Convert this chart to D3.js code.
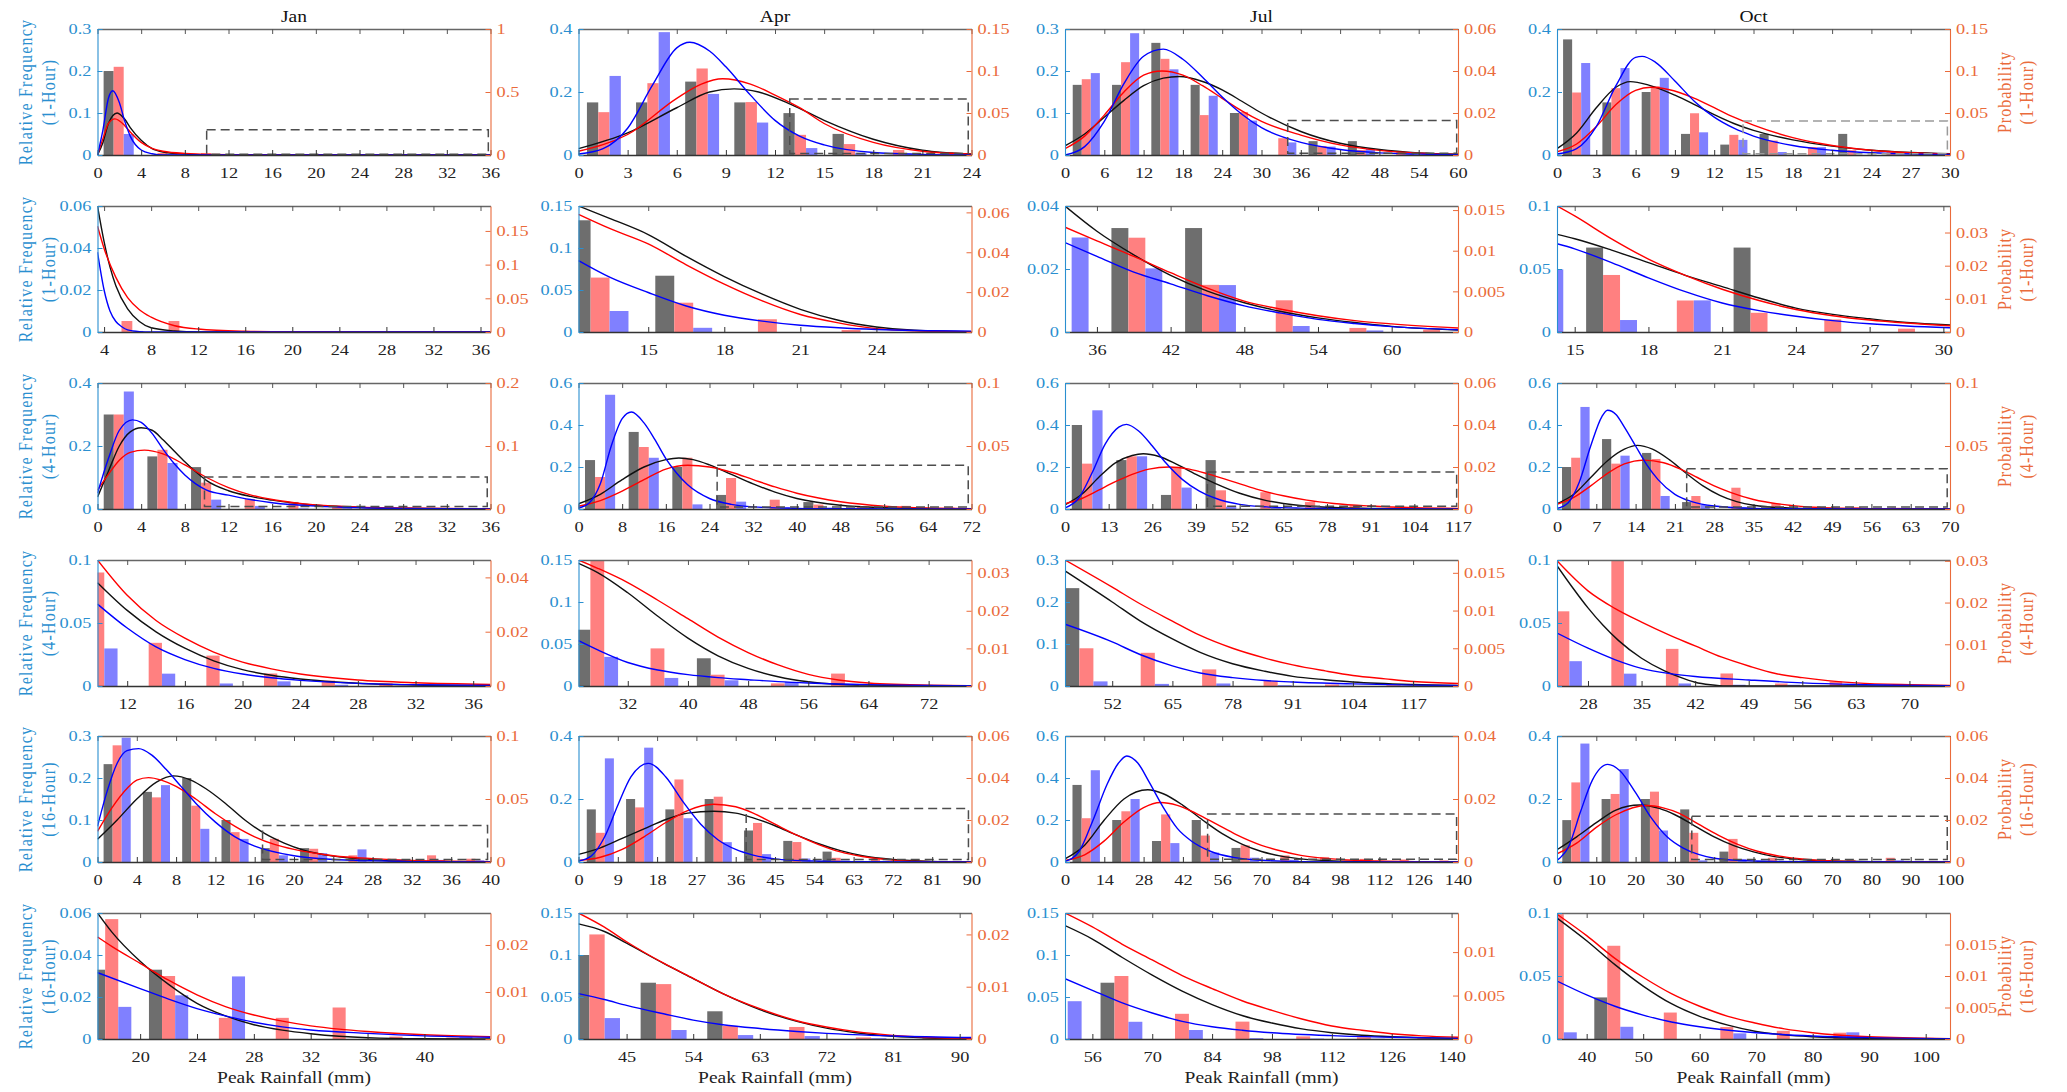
<!DOCTYPE html>
<html><head><meta charset="utf-8">
<script src="https://cdn.jsdelivr.net/npm/d3@7"></script>
<style>body{margin:0;background:#fff}svg{display:block}text{font-family:"Liberation Serif","Times New Roman",serif}</style>
</head><body><svg id="c" width="2067" height="1092"></svg>
<script>
const months = ["Jan","Apr","Jul","Oct"];
const durations = ["1-Hour","1-Hour","4-Hour","4-Hour","16-Hour","16-Hour"];
const xLabel = "Peak Rainfall (mm)";
const leftLabel = "Relative Frequency";
const rightLabel = "Probability";

// ---------- Row 1 : 1-Hour ----------
const xDomain_R1 = [[0,36],[0,24],[0,60],[0,30]];
const xTicks_R1 = [[0,4,8,12,16,20,24,28,32,36],[0,3,6,9,12,15,18,21,24],[0,6,12,18,24,30,36,42,48,54,60],[0,3,6,9,12,15,18,21,24,27,30]];
const leftMax_R1 = [0.3,0.4,0.3,0.4];
const leftTicks_R1 = [[0,0.1,0.2,0.3],[0,0.2,0.4],[0,0.1,0.2,0.3],[0,0.2,0.4]];
const rightMax_R1 = [1,0.15,0.06,0.15];
const rightTicks_R1 = [[0,0.5,1],[0,0.05,0.1,0.15],[0,0.02,0.04,0.06],[0,0.05,0.1,0.15]];
const binWidth_R1 = [4,3,6,3];
const bins_R1 = [[1.94,5.94,9.94,13.94],[1.55,4.55,7.55,10.55,13.55,16.55,19.55,22.55],[3.25,9.25,15.25,21.25,27.25,33.25,39.25,45.25,51.25,57.25],[1.5,4.5,7.5,10.5,13.5,16.5,19.5,22.5,25.5,28.5]];
const gray_R1 = [[0.2,0,0,0],[0.167,0.167,0.233,0.167,0.133,0.067,0,0],[0.167,0.167,0.267,0.167,0.1,0,0.033,0.033,0,0],[0.367,0.167,0.2,0.067,0.033,0.067,0,0.067,0,0]];
const red_R1 = [[0.7,0.016,0.016,0.002],[0.051,0.0855,0.103,0.063,0.024,0.013,0.006,0.003],[0.0361,0.0442,0.0458,0.019,0.0205,0.008,0.0043,0.0024,0.0016,0.0008],[0.0744,0.0796,0.082,0.0497,0.024,0.0172,0.0095,0.0058,0.0038,0.001]];
const blue_R1 = [[0.05,0.002,0,0],[0.251,0.39,0.194,0.103,0.022,0.007,0.005,0.003],[0.195,0.29,0.204,0.141,0.082,0.03,0.02,0.015,0.002,0.001],[0.292,0.276,0.245,0.072,0.048,0.0095,0.025,0,0,0]];
const cBlack_R1 = [
 [[0,0],[0.5,0.03],[1,0.075],[1.8,0.1],[2.5,0.085],[3,0.065],[4,0.035],[5,0.015],[6,0.007],[8,0.002],[12,0],[36,0]],
 [[0,0.02],[3,0.07],[6,0.15],[8,0.2],[9.5,0.21],[11,0.2],[13,0.16],[15,0.11],[18,0.05],[21,0.015],[24,0.003]],
 [[0,0.022],[3,0.05],[6,0.09],[9,0.13],[12,0.165],[15,0.183],[17.5,0.187],[21,0.175],[24,0.155],[27,0.128],[30,0.1],[36,0.056],[42,0.028],[48,0.013],[54,0.005],[60,0.002]],
 [[0,0.02],[1.5,0.07],[3,0.15],[4.5,0.215],[5.6,0.233],[7,0.222],[9,0.19],[10.5,0.16],[12,0.128],[13.5,0.1],[15,0.078],[18,0.048],[21,0.028],[24,0.015],[27,0.008],[30,0.004]]];
const cBlue_R1 = [
 [[0,0],[0.5,0.06],[1,0.135],[1.4,0.153],[2,0.125],[2.5,0.08],[3,0.045],[4,0.012],[5,0.003],[6,0],[36,0]],
 [[0,0.003],[1.5,0.02],[3,0.085],[4.5,0.22],[6,0.34],[6.8,0.358],[8,0.33],[9,0.28],[10.5,0.19],[12,0.11],[13.5,0.06],[15,0.032],[18,0.008],[21,0.002],[24,0]],
 [[0,0],[3,0.02],[6,0.08],[9,0.17],[12,0.235],[15,0.252],[18,0.228],[21,0.185],[24,0.138],[27,0.097],[30,0.065],[36,0.03],[42,0.013],[48,0.005],[54,0.002],[60,0.0005]],
 [[0,0.003],[1.5,0.02],[3,0.09],[4.5,0.22],[6,0.31],[6.5,0.313],[7.5,0.295],[9,0.235],[10.5,0.17],[12,0.12],[13.5,0.085],[15,0.06],[18,0.03],[21,0.015],[24,0.007],[27,0.003],[30,0.0015]]];
const cRed_R1 = [
 [[0,0],[0.5,0.13],[1,0.25],[1.6,0.287],[2.5,0.233],[3,0.183],[4,0.1],[5,0.053],[6,0.03],[8,0.013],[12,0.003],[36,0]],
 [[0,0.0045],[3,0.0244],[6,0.0675],[7.5,0.0844],[8.8,0.0908],[10.5,0.0844],[12,0.0713],[13.5,0.0563],[15,0.0375],[18,0.015],[21,0.0045],[24,0.0011]],
 [[0,0.003],[3,0.009],[6,0.019],[9,0.03],[12,0.038],[14.8,0.04],[18,0.038],[21,0.033],[24,0.027],[27,0.021],[30,0.016],[36,0.0095],[42,0.0048],[48,0.0022],[54,0.0009],[60,0.0003]],
 [[0,0.0038],[1.5,0.0131],[3,0.0338],[4.5,0.06],[6,0.0769],[7.2,0.0806],[8.5,0.078],[10.5,0.0675],[12,0.0563],[13.5,0.045],[15,0.0356],[18,0.0206],[21,0.0113],[24,0.0056],[27,0.0026],[30,0.0011]]];
const box_R1 = [[10,35.8,0.002,0.06],[12.9,23.8,0.005,0.178],[34,59.8,0.004,0.082],[14.2,29.8,0.004,0.108]];

// ---------- Row 2 : 1-Hour tail ----------
const xDomain_R2 = [[3.44,36.85],[12.25,27.75],[33.4,65.4],[14.28,30.27]];
const xTicks_R2 = [[4,8,12,16,20,24,28,32,36],[15,18,21,24],[36,42,48,54,60],[15,18,21,24,27,30]];
const leftMax_R2 = [0.06,0.15,0.04,0.1];
const leftTicks_R2 = [[0,0.02,0.04,0.06],[0,0.05,0.1,0.15],[0,0.02,0.04],[0,0.05,0.1]];
const rightMax_R2 = [0.187,0.0632,0.0155,0.038];
const rightTicks_R2 = [[0,0.05,0.1,0.15],[0,0.02,0.04,0.06],[0,0.005,0.01,0.015],[0,0.01,0.02,0.03]];
const binWidth_R2 = [4,3.25,6,3];
const bins_R2 = [[5.94,9.94,13.94,17.94],[13.1,16.4,19.7,23.0],[33.25,39.25,45.25,51.25,57.25,63.25],[13.5,16.5,19.5,22.5,25.5,28.5]];
const gray_R2 = [[0,0,0,0],[0.133,0.067,0,0],[0,0.033,0.033,0,0,0],[0,0.067,0,0.067,0,0]];
const red_R2 = [[0.0163,0.0163,0.001,0.0005],[0.0273,0.0147,0.0064,0.001],[0,0.0116,0.0058,0.0039,0.0005,0.0003],[0,0.0172,0.0095,0.0058,0.0038,0.001]];
const blue_R2 = [[0.0005,0,0,0],[0.025,0.005,0,0],[0.03,0.0202,0.0149,0.0019,0.0005,0],[0.0497,0.0095,0.0251,0,0,0]];
const cBlack_R2 = [
 [[3.44,0.06],[4,0.043],[4.5,0.031],[5,0.022],[6,0.011],[7,0.005],[8,0.002],[10,0.0005],[12,0],[36.85,0]],
 [[12.25,0.15],[13.5,0.135],[15,0.116],[16.5,0.09],[18,0.066],[19.5,0.045],[21,0.027],[22.5,0.014],[24,0.006],[25.5,0.002],[27.75,0.0003]],
 [[33.4,0.04],[36,0.032],[39,0.0245],[42,0.018],[45,0.013],[48,0.0093],[51,0.0065],[54,0.0045],[57,0.003],[60,0.0018],[65.4,0.0006]],
 [[14.28,0.0775],[15,0.074],[16.5,0.065],[18,0.055],[19.5,0.045],[21,0.036],[22.5,0.027],[24,0.019],[25.5,0.014],[27,0.0105],[28.5,0.0075],[30.27,0.0055]]];
const cBlue_R2 = [
 [[3.44,0.038],[4,0.02],[4.5,0.01],[5,0.005],[5.5,0.0025],[6,0.001],[7,0.0002],[8,0],[36.85,0]],
 [[12.25,0.085],[13.5,0.065],[15,0.047],[16.5,0.031],[18,0.02],[19.5,0.013],[21,0.008],[22.5,0.005],[24,0.003],[27.75,0.001]],
 [[33.4,0.0284],[36,0.024],[39,0.019],[42,0.0153],[45,0.0115],[48,0.0083],[51,0.006],[54,0.004],[57,0.0027],[60,0.0017],[65.4,0.0007]],
 [[14.28,0.07],[15,0.066],[16.5,0.055],[18,0.043],[19.5,0.032],[21,0.023],[22.5,0.017],[24,0.0125],[25.5,0.009],[27,0.0065],[28.5,0.0048],[30.27,0.0034]]];
const cRed_R2 = [
 [[3.44,0.157],[4,0.124],[5,0.081],[6,0.051],[7,0.033],[8,0.022],[10,0.0093],[12,0.0044],[16,0.0012],[20,0.0003],[36.85,0]],
 [[12.25,0.059],[13.5,0.0518],[15,0.0442],[16.5,0.0337],[18,0.024],[19.5,0.0156],[21,0.0088],[22.5,0.0046],[24,0.0017],[25.5,0.0006],[27.75,0.0001]],
 [[33.4,0.0129],[36,0.0112],[39,0.0093],[42,0.0073],[45,0.0054],[48,0.0038],[51,0.0028],[54,0.002],[57,0.0014],[60,0.001],[65.4,0.0005]],
 [[14.28,0.038],[15,0.035],[16.5,0.0281],[18,0.022],[19.5,0.0171],[21,0.0129],[22.5,0.0095],[24,0.0068],[25.5,0.0049],[27,0.0036],[28.5,0.0027],[30.27,0.0019]]];
const box_R2 = [null,null,null,null];

// ---------- Row 3 : 4-Hour ----------
const xDomain_R3 = [[0,36],[0,72],[0,117],[0,70]];
const xTicks_R3 = [[0,4,8,12,16,20,24,28,32,36],[0,8,16,24,32,40,48,56,64,72],[0,13,26,39,52,65,78,91,104,117],[0,7,14,21,28,35,42,49,56,63,70]];
const leftMax_R3 = [0.4,0.6,0.6,0.6];
const leftTicks_R3 = [[0,0.2,0.4],[0,0.2,0.4,0.6],[0,0.2,0.4,0.6],[0,0.2,0.4,0.6]];
const rightMax_R3 = [0.2,0.1,0.06,0.1];
const rightTicks_R3 = [[0,0.1,0.2],[0,0.05,0.1],[0,0.02,0.04,0.06],[0,0.05,0.1]];
const binWidth_R3 = [4,8,13.27,7.13];
const bins_R3 = [[1.95,5.95,9.95,13.95,17.95,21.95,25.95,29.95,33.95],[3.95,11.95,19.95,27.95,35.95,43.95,51.95,59.95,67.95],[6.6,19.87,33.14,46.41,59.68,72.95,86.22,99.49,112.76],[3.35,10.48,17.61,24.74,31.87,39.0,46.13,53.26,60.39,67.52]];
const gray_R3 = [[0.3,0.167,0.133,0,0,0,0,0,0],[0.233,0.367,0.2,0.067,0,0.033,0,0,0],[0.4,0.233,0.067,0.233,0,0,0,0,0],[0.2,0.333,0.267,0.033,0,0,0,0,0,0]];
const red_R3 = [[0.15,0.094,0.0418,0.0159,0.0112,0.0046,0.002,0.001,0.0005],[0.0254,0.0492,0.0407,0.0246,0.0074,0.0035,0.002,0.0025,0.0012],[0.0216,0.0251,0.02,0.0089,0.008,0.0033,0.0017,0.001,0.0005],[0.0407,0.036,0.0397,0.0103,0.0169,0.0045,0.002,0.0015,0.001,0.0005]];
const blue_R3 = [[0.373,0.146,0.0298,0.0098,0.002,0.0037,0.001,0,0],[0.544,0.244,0.022,0.035,0.0096,0.0068,0.005,0.001,0.001],[0.47,0.251,0.102,0.011,0.005,0.006,0.002,0.001,0],[0.486,0.254,0.062,0.0197,0.0098,0.002,0.001,0.001,0,0]];
const cBlack_R3 = [
 [[0,0.038],[1,0.12],[2,0.2],[3,0.245],[4,0.258],[5,0.25],[6,0.22],[7,0.185],[8,0.15],[9,0.118],[10,0.09],[12,0.058],[14,0.04],[16,0.028],[20,0.012],[24,0.005],[28,0.002],[36,0]],
 [[0,0.025],[4,0.07],[8,0.14],[12,0.2],[16,0.235],[18.4,0.243],[21,0.235],[24,0.21],[28,0.165],[32,0.12],[36,0.08],[40,0.05],[48,0.018],[56,0.006],[64,0.002],[72,0.0005]],
 [[0,0.02],[5,0.07],[10,0.15],[15,0.22],[20,0.255],[23.3,0.263],[28,0.25],[33,0.215],[39,0.165],[45,0.12],[52,0.075],[60,0.04],[70,0.017],[80,0.007],[91,0.003],[104,0.001],[117,0]],
 [[0,0.025],[3,0.07],[6,0.15],[9,0.23],[12,0.285],[14.3,0.303],[17,0.285],[20,0.235],[23,0.17],[26,0.11],[29,0.065],[32,0.035],[35,0.018],[42,0.004],[49,0.001],[70,0]]];
const cBlue_R3 = [
 [[0,0.05],[1,0.16],[2,0.25],[3.2,0.283],[4,0.275],[5,0.24],[6,0.19],[7,0.145],[8,0.108],[9,0.08],[10,0.06],[12,0.044],[14,0.03],[16,0.02],[20,0.009],[24,0.004],[28,0.002],[36,0]],
 [[0,0.005],[2,0.03],[4,0.12],[6,0.3],[8,0.43],[9.7,0.462],[12,0.41],[14,0.33],[16,0.24],[18,0.17],[20,0.115],[24,0.05],[28,0.022],[32,0.01],[40,0.003],[48,0.001],[72,0]],
 [[0,0.005],[4,0.05],[8,0.17],[12,0.31],[16,0.39],[18.3,0.403],[22,0.37],[26,0.3],[30,0.22],[35,0.14],[40,0.085],[45,0.05],[52,0.022],[60,0.01],[70,0.004],[80,0.002],[117,0]],
 [[0,0.003],[2,0.03],[4,0.13],[6,0.3],[8,0.44],[9,0.47],[10.5,0.45],[12,0.39],[14,0.3],[16,0.21],[18,0.14],[21,0.07],[24,0.035],[28,0.014],[35,0.003],[42,0.001],[70,0]]];
const cRed_R3 = [
 [[0,0.03],[1,0.055],[2,0.0775],[3,0.09],[4.3,0.0935],[6,0.0875],[8,0.07],[10,0.05],[12,0.034],[14,0.0225],[16,0.015],[18,0.01],[20,0.0065],[24,0.003],[28,0.0015],[32,0.00075],[36,0.0004]],
 [[0,0.0022],[4,0.0067],[8,0.0142],[12,0.0233],[16,0.0317],[20,0.0347],[24,0.0333],[28,0.0292],[32,0.0233],[36,0.0175],[40,0.0125],[44,0.0087],[48,0.0058],[56,0.0023],[64,0.0008],[72,0.0003]],
 [[0,0.0025],[5,0.005],[10,0.009],[15,0.013],[20,0.0165],[25,0.019],[31,0.02],[37,0.019],[43,0.0165],[50,0.013],[57,0.0095],[65,0.0063],[72,0.0042],[80,0.0026],[91,0.0014],[104,0.0006],[117,0.0003]],
 [[0,0.0037],[3,0.0092],[6,0.0183],[9,0.0283],[12,0.0358],[15.5,0.0388],[19,0.0367],[22,0.0317],[25,0.025],[28,0.0183],[31,0.013],[35,0.0075],[42,0.0027],[49,0.0008],[56,0.0003],[70,0.00005]]];
const box_R3 = [[9.8,35.7,0.008,0.1016],[25.4,71.4,0.0095,0.208],[42.4,116.6,0.013,0.176],[23.1,69.5,0.0095,0.192]];

// ---------- Row 4 : 4-Hour tail ----------
const xDomain_R4 = [[9.94,37.2],[25.45,77.7],[41.8,126.7],[23.95,75.3]];
const xTicks_R4 = [[12,16,20,24,28,32,36],[32,40,48,56,64,72],[52,65,78,91,104,117],[28,35,42,49,56,63,70]];
const leftMax_R4 = [0.1,0.15,0.3,0.1];
const leftTicks_R4 = [[0,0.05,0.1],[0,0.05,0.1,0.15],[0,0.1,0.2,0.3],[0,0.05,0.1]];
const rightMax_R4 = [0.0464,0.0335,0.0167,0.0302];
const rightTicks_R4 = [[0,0.02,0.04],[0,0.01,0.02,0.03],[0,0.005,0.01,0.015],[0,0.01,0.02,0.03]];
const binWidth_R4 = [4,8,13.27,7.13];
const bins_R4 = [[9.95,13.95,17.95,21.95,25.95,29.95,33.95],[27.95,35.95,43.95,51.95,59.95,67.95,75.95],[46.41,59.68,72.95,86.22,99.49,112.76,126.03],[24.74,31.87,39.0,46.13,53.26,60.39,67.52,74.65]];
const gray_R4 = [[0,0,0,0,0,0,0],[0.067,0,0.033,0,0,0,0],[0.233,0,0,0,0,0,0],[0.033,0,0,0,0,0,0,0]];
const red_R4 = [[0.0418,0.0159,0.0112,0.0046,0.002,0.001,0.0005],[0.034,0.01,0.003,0.0007,0.0033,0.0003,0],[0.005,0.0044,0.0022,0.0007,0.0002,0.0001,0],[0.0179,0.031,0.0089,0.003,0.0006,0.0011,0.0003,0]];
const blue_R4 = [[0.0298,0.0098,0.002,0.0037,0.001,0,0],[0.0347,0.0096,0.0068,0.005,0.001,0,0],[0.011,0.005,0.006,0.002,0.001,0.0005,0],[0.0197,0.0098,0.002,0.001,0.001,0.0005,0,0]];
const cBlack_R4 = [
 [[9.94,0.082],[12,0.06],[14,0.043],[16,0.03],[18,0.02],[20,0.013],[22,0.0085],[24,0.0055],[28,0.0022],[32,0.0008],[37.2,0.0002]],
 [[25.45,0.146],[28,0.135],[32,0.111],[36,0.083],[40,0.057],[44,0.036],[48,0.021],[52,0.011],[56,0.005],[60,0.002],[64,0.001],[77.7,0]],
 [[41.8,0.274],[52,0.2],[58,0.155],[65,0.112],[71,0.08],[78,0.053],[85,0.035],[91,0.023],[98,0.015],[104,0.0095],[117,0.0035],[126.7,0.0015]],
 [[23.95,0.0955],[26,0.078],[28,0.062],[30,0.048],[32,0.036],[35,0.022],[38,0.012],[40,0.007],[42,0.003],[44,0.001],[46,0],[75.3,0]]];
const cBlue_R4 = [
 [[9.94,0.065],[12,0.046],[14,0.031],[16,0.021],[18,0.014],[20,0.0095],[22,0.0065],[24,0.0045],[28,0.0021],[32,0.001],[37.2,0.0004]],
 [[25.45,0.054],[28,0.043],[32,0.028],[36,0.019],[40,0.0135],[44,0.01],[48,0.0075],[52,0.0052],[56,0.0036],[64,0.0016],[77.7,0.0004]],
 [[41.8,0.147],[52,0.105],[58,0.075],[65,0.048],[71,0.031],[78,0.02],[85,0.013],[91,0.0095],[104,0.005],[117,0.0022],[126.7,0.001]],
 [[23.95,0.042],[28,0.03],[31.5,0.021],[35,0.014],[38.5,0.01],[42,0.0075],[49,0.0048],[56,0.0025],[63,0.0012],[75.3,0.0003]]];
const cRed_R4 = [
 [[9.94,0.0464],[12,0.0334],[14,0.0241],[16,0.0176],[18,0.0125],[20,0.0088],[22,0.0063],[24,0.0044],[28,0.0022],[32,0.0012],[37.2,0.0006]],
 [[25.45,0.0335],[28,0.0313],[32,0.0275],[36,0.0228],[40,0.0179],[44,0.013],[48,0.0089],[52,0.0056],[56,0.0031],[60,0.0016],[64,0.0008],[72,0.0002],[77.7,0.0001]],
 [[41.8,0.0167],[52,0.0131],[58,0.0109],[65,0.0086],[71,0.0067],[78,0.005],[85,0.0037],[91,0.0028],[98,0.002],[104,0.0014],[111,0.00095],[117,0.0006],[126.7,0.00033]],
 [[23.95,0.03],[28,0.0228],[31.5,0.0186],[35,0.0153],[38.5,0.0123],[42,0.0096],[45.5,0.0069],[49,0.0048],[52.5,0.003],[56,0.002],[63,0.00075],[70,0.0003],[75.3,0.00015]]];
const box_R4 = [null,null,null,null];

// ---------- Row 5 : 16-Hour ----------
const xDomain_R5 = [[0,40],[0,90],[0,140],[0,100]];
const xTicks_R5 = [[0,4,8,12,16,20,24,28,32,36,40],[0,9,18,27,36,45,54,63,72,81,90],[0,14,28,42,56,70,84,98,112,126,140],[0,10,20,30,40,50,60,70,80,90,100]];
const leftMax_R5 = [0.3,0.4,0.6,0.4];
const leftTicks_R5 = [[0,0.1,0.2,0.3],[0,0.2,0.4],[0,0.2,0.4,0.6],[0,0.2,0.4]];
const rightMax_R5 = [0.1,0.06,0.04,0.06];
const rightTicks_R5 = [[0,0.05,0.1],[0,0.02,0.04,0.06],[0,0.02,0.04],[0,0.02,0.04,0.06]];
const binWidth_R5 = [4,9,14.16,10];
const bins_R5 = [[2,6,10,14,18,22,26,30,34,38],[5,14,23,32,41,50,59,68,77,86],[7.55,21.71,35.87,50.03,64.19,78.35,92.51,106.67,120.83,134.99],[4.8,14.8,24.8,34.8,44.8,54.8,64.8,74.8,84.8,94.8]];
const gray_R5 = [[0.233,0.167,0.2,0.1,0.033,0.033,0,0,0,0],[0.167,0.2,0.167,0.2,0.1,0.067,0.033,0,0,0],[0.367,0.2,0.1,0.2,0.067,0,0,0,0,0],[0.133,0.2,0.2,0.167,0.033,0,0,0,0,0]];
const red_R5 = [[0.0926,0.0513,0.0447,0.0237,0.0184,0.0105,0.0053,0.0026,0.0053,0.0026],[0.0139,0.026,0.0393,0.0311,0.0186,0.0095,0.002,0.0016,0.001,0.0005],[0.0139,0.0161,0.0151,0.0084,0.0053,0.0021,0.0016,0.001,0.0008,0.0005],[0.0379,0.0324,0.0335,0.0139,0.011,0.002,0.001,0.001,0.002,0.0005]];
const blue_R5 = [[0.296,0.183,0.079,0.055,0.016,0.021,0.03,0.006,0.005,0.004],[0.329,0.363,0.139,0.063,0.025,0.011,0.0047,0.0035,0.001,0.0005],[0.437,0.3,0.09,0.045,0.0205,0.0107,0.003,0.002,0.001,0.0005],[0.376,0.295,0.1,0.0053,0.0097,0,0.0045,0,0.0053,0]];
const cBlack_R5 = [
 [[0,0.054],[2,0.1],[4,0.15],[6,0.19],[7.7,0.205],[9.5,0.195],[11,0.175],[13,0.14],[15,0.1],[17,0.068],[19,0.045],[21,0.028],[24,0.014],[28,0.005],[32,0.002],[40,0]],
 [[0,0.024],[5,0.045],[10,0.075],[15,0.105],[20,0.135],[25,0.155],[31,0.161],[36,0.155],[40,0.14],[45,0.115],[50,0.085],[55,0.058],[60,0.036],[65,0.02],[72,0.008],[81,0.002],[90,0.0005]],
 [[0,0.015],[7,0.08],[14,0.2],[21,0.3],[29.5,0.344],[35,0.325],[42,0.27],[49,0.2],[56,0.135],[63,0.085],[70,0.05],[77,0.028],[84,0.015],[98,0.004],[112,0.001],[140,0]],
 [[0,0.039],[5,0.08],[10,0.125],[15,0.165],[21,0.181],[26,0.17],[30,0.15],[35,0.115],[40,0.08],[45,0.052],[50,0.032],[55,0.018],[60,0.01],[70,0.003],[80,0.001],[100,0]]];
const cBlue_R5 = [
 [[0,0.085],[1,0.17],[2,0.235],[3,0.265],[4.2,0.27],[5.5,0.255],[7,0.22],[8.5,0.18],[10,0.14],[12,0.095],[14,0.06],[16,0.038],[20,0.015],[24,0.006],[28,0.003],[32,0.001],[40,0]],
 [[0,0.003],[3,0.02],[6,0.08],[9,0.18],[12,0.27],[16,0.313],[20,0.27],[24,0.19],[28,0.12],[32,0.07],[36,0.04],[40,0.022],[45,0.01],[54,0.003],[63,0.001],[90,0]],
 [[0,0.003],[5,0.05],[10,0.2],[15,0.37],[19,0.47],[22,0.505],[26,0.47],[30,0.38],[35,0.26],[40,0.16],[45,0.1],[52,0.05],[60,0.022],[70,0.008],[84,0.002],[98,0.0005],[140,0]],
 [[0,0.005],[3,0.05],[6,0.16],[9,0.26],[12.9,0.31],[16,0.29],[20,0.22],[24,0.14],[28,0.08],[32,0.045],[36,0.024],[40,0.012],[50,0.003],[60,0.001],[100,0]]];
const cRed_R5 = [
 [[0,0.0243],[1.5,0.0433],[3,0.0583],[4,0.065],[5.2,0.067],[6.5,0.065],[8,0.06],[10,0.05],[12,0.0383],[14,0.0283],[16,0.02],[18,0.014],[20,0.01],[24,0.005],[28,0.0027],[32,0.0013],[36,0.0007],[40,0.0003]],
 [[0,0.00075],[5,0.00225],[10,0.006],[15,0.012],[20,0.0188],[25,0.0245],[31,0.0275],[36,0.0263],[40,0.0233],[45,0.018],[50,0.0128],[55,0.0083],[60,0.0048],[65,0.0026],[72,0.0009],[81,0.0002],[90,0.00005]],
 [[0,0.0005],[7,0.0023],[14,0.0067],[21,0.0127],[28,0.0173],[34,0.0189],[40,0.018],[47,0.0153],[54,0.012],[61,0.0087],[70,0.0053],[77,0.0035],[84,0.0021],[98,0.0008],[112,0.0003],[126,0.0001],[140,0.00003]],
 [[0,0.0039],[5,0.009],[10,0.0165],[15,0.0225],[22.9,0.0269],[27,0.0258],[31,0.0233],[36,0.018],[41,0.0128],[46,0.0084],[51,0.0051],[56,0.003],[61,0.0017],[70,0.0005],[80,0.00015],[100,0.00002]]];
const box_R5 = [[16.8,39.7,0.006,0.0868],[38.4,89.3,0.008,0.17],[50.8,139.5,0.0126,0.229],[34.3,99.3,0.008,0.145]];

// ---------- Row 6 : 16-Hour tail ----------
const xDomain_R6 = [[17.0,44.65],[38.5,91.6],[49.6,141.5],[34.75,104.3]];
const xTicks_R6 = [[20,24,28,32,36,40],[45,54,63,72,81,90],[56,70,84,98,112,126,140],[40,50,60,70,80,90,100]];
const leftMax_R6 = [0.06,0.15,0.15,0.1];
const leftTicks_R6 = [[0,0.02,0.04,0.06],[0,0.05,0.1,0.15],[0,0.05,0.1,0.15],[0,0.05,0.1]];
const rightMax_R6 = [0.0268,0.0241,0.0145,0.02];
const rightTicks_R6 = [[0,0.01,0.02],[0,0.01,0.02],[0,0.005,0.01],[0,0.005,0.01,0.015]];
const binWidth_R6 = [4,9,14.16,10];
const bins_R6 = [[18,22,26,30,34,38,42],[41,50,59,68,77,86],[48.6,62.8,76.95,91.1,105.3,119.5,133.6],[34.8,44.8,54.8,64.8,74.8,84.8,94.8]];
const gray_R6 = [[0.033,0.033,0,0,0,0,0],[0.1,0.067,0.033,0,0,0],[0,0.067,0,0,0,0,0],[0,0.033,0,0,0,0,0]];
const red_R6 = [[0.0255,0.0134,0.0045,0.0045,0.0067,0.0005,0.0003],[0.02,0.0105,0.0025,0.0023,0.0003,0.0002],[0,0.00725,0.0029,0.002,0.0003,0.0002,0.0001],[0.0198,0.0148,0.0042,0.0019,0.0013,0.001,0.0002]];
const blue_R6 = [[0.0153,0.0208,0.0298,0,0,0,0.001],[0.0249,0.0107,0.0047,0.0035,0.001,0.0005],[0.045,0.0205,0.0107,0.001,0.0005,0.0003,0],[0.0053,0.0097,0,0.0045,0,0.0053,0]];
const cBlack_R6 = [
 [[17,0.06],[18,0.051],[20,0.037],[22,0.026],[24,0.017],[26,0.011],[28,0.0068],[30,0.0042],[32,0.0025],[34,0.0013],[36,0.0006],[40,0.0001],[44.65,0]],
 [[38.5,0.137],[42,0.128],[45,0.114],[50,0.09],[54,0.072],[58,0.054],[63,0.035],[68,0.021],[72,0.013],[76,0.0075],[81,0.0032],[86,0.0012],[91.6,0.0003]],
 [[49.6,0.135],[56,0.119],[63,0.097],[70,0.076],[77,0.057],[84,0.041],[91,0.028],[98,0.019],[105,0.012],[112,0.0075],[119,0.0045],[126,0.0027],[133,0.0015],[141.5,0.0007]],
 [[34.75,0.096],[40,0.078],[45,0.059],[50,0.042],[55,0.028],[60,0.018],[65,0.011],[70,0.006],[75,0.0033],[80,0.0018],[90,0.0005],[104.3,0]]];
const cBlue_R6 = [
 [[17,0.0316],[20,0.024],[22,0.019],[24,0.0145],[26,0.011],[28,0.008],[30,0.0058],[32,0.0043],[36,0.0027],[40,0.0015],[44.65,0.0008]],
 [[38.5,0.054],[42,0.047],[45,0.04],[50,0.03],[54,0.0225],[58,0.017],[63,0.0125],[68,0.009],[72,0.0067],[81,0.0036],[91.6,0.0017]],
 [[49.6,0.0718],[56,0.058],[63,0.043],[70,0.031],[77,0.021],[84,0.0146],[91,0.0105],[98,0.0075],[112,0.004],[126,0.002],[141.5,0.0008]],
 [[34.75,0.046],[40,0.035],[45,0.026],[50,0.019],[55,0.0135],[60,0.0097],[70,0.005],[80,0.0024],[90,0.0011],[104.3,0.0003]]];
const cRed_R6 = [
 [[17,0.0217],[18,0.0197],[20,0.0161],[22,0.0125],[24,0.0094],[26,0.0069],[28,0.0051],[30,0.0038],[32,0.0028],[34,0.0021],[36,0.0016],[40,0.0009],[44.65,0.0005]],
 [[38.5,0.0241],[42,0.0214],[45,0.0186],[50,0.0145],[54,0.0116],[58,0.0087],[63,0.0058],[68,0.0035],[72,0.0023],[76,0.0014],[81,0.0007],[86,0.0003],[91.6,0.0001]],
 [[49.6,0.0145],[56,0.0129],[63,0.0109],[70,0.0091],[77,0.0073],[84,0.0058],[91,0.0044],[98,0.0033],[105,0.0023],[112,0.0015],[119,0.001],[126,0.0006],[133,0.00036],[141.5,0.0002]],
 [[34.75,0.0198],[40,0.0164],[45,0.0128],[50,0.0098],[55,0.0072],[60,0.0052],[65,0.0036],[70,0.0025],[75,0.0016],[80,0.001],[90,0.00036],[104.3,0.00006]]];
const box_R6 = [null,null,null,null];

// ---------- assemble ----------
const rows = [
 {xDomain:xDomain_R1,xTicks:xTicks_R1,leftMax:leftMax_R1,leftTicks:leftTicks_R1,rightMax:rightMax_R1,rightTicks:rightTicks_R1,binWidth:binWidth_R1,bins:bins_R1,gray:gray_R1,red:red_R1,blue:blue_R1,cBlack:cBlack_R1,cBlue:cBlue_R1,cRed:cRed_R1,box:box_R1},
 {xDomain:xDomain_R2,xTicks:xTicks_R2,leftMax:leftMax_R2,leftTicks:leftTicks_R2,rightMax:rightMax_R2,rightTicks:rightTicks_R2,binWidth:binWidth_R2,bins:bins_R2,gray:gray_R2,red:red_R2,blue:blue_R2,cBlack:cBlack_R2,cBlue:cBlue_R2,cRed:cRed_R2,box:box_R2},
 {xDomain:xDomain_R3,xTicks:xTicks_R3,leftMax:leftMax_R3,leftTicks:leftTicks_R3,rightMax:rightMax_R3,rightTicks:rightTicks_R3,binWidth:binWidth_R3,bins:bins_R3,gray:gray_R3,red:red_R3,blue:blue_R3,cBlack:cBlack_R3,cBlue:cBlue_R3,cRed:cRed_R3,box:box_R3},
 {xDomain:xDomain_R4,xTicks:xTicks_R4,leftMax:leftMax_R4,leftTicks:leftTicks_R4,rightMax:rightMax_R4,rightTicks:rightTicks_R4,binWidth:binWidth_R4,bins:bins_R4,gray:gray_R4,red:red_R4,blue:blue_R4,cBlack:cBlack_R4,cBlue:cBlue_R4,cRed:cRed_R4,box:box_R4},
 {xDomain:xDomain_R5,xTicks:xTicks_R5,leftMax:leftMax_R5,leftTicks:leftTicks_R5,rightMax:rightMax_R5,rightTicks:rightTicks_R5,binWidth:binWidth_R5,bins:bins_R5,gray:gray_R5,red:red_R5,blue:blue_R5,cBlack:cBlack_R5,cBlue:cBlue_R5,cRed:cRed_R5,box:box_R5},
 {xDomain:xDomain_R6,xTicks:xTicks_R6,leftMax:leftMax_R6,leftTicks:leftTicks_R6,rightMax:rightMax_R6,rightTicks:rightTicks_R6,binWidth:binWidth_R6,bins:bins_R6,gray:gray_R6,red:red_R6,blue:blue_R6,cBlack:cBlack_R6,cBlue:cBlue_R6,cRed:cRed_R6,box:box_R6}
];

// ---------- layout & style ----------
const colLeft = [97.5, 578.5, 1065, 1557];
const rowTop = [29, 206, 383, 560, 736, 913];
const W = 393, H = 126;
const SX = 1.22;
const LEFT_C = "#2a8fd0", RIGHT_C = "#ea6b3b", AX_C = "#333";
const fmt = v => String(+v.toFixed(4));
const svg = d3.select("#c");
const defs = svg.append("defs");

function styleText(sel, color, size) {
  sel.attr("font-size", size).attr("font-family", '"Liberation Serif","Times New Roman",serif')
     .attr("fill", color).attr("transform", `scale(${SX},1)`);
}

rows.forEach((R, r) => {
  months.forEach((m, c) => {
    const L = colLeft[c], T = rowTop[r];
    const x = d3.scaleLinear().domain(R.xDomain[c]).range([L, L + W]);
    const yL = d3.scaleLinear().domain([0, R.leftMax[c]]).range([T + H, T]);
    const yR = d3.scaleLinear().domain([0, R.rightMax[c]]).range([T + H, T]);
    const id = `clip${r}_${c}`;
    defs.append("clipPath").attr("id", id).append("rect").attr("x", L).attr("y", T).attr("width", W).attr("height", H);
    const g = svg.append("g");
    const plot = g.append("g").attr("clip-path", `url(#${id})`);
    const bw = R.binWidth[c] * 0.23;
    const series = [
      {vals: R.gray[c], off: -1, y: yL, color: "#6e6e6e"},
      {vals: R.red[c],  off: 0,  y: yR, color: "#ff8080"},
      {vals: R.blue[c], off: 1,  y: yL, color: "#8080ff"}];
    series.forEach(s => {
      plot.selectAll(null).data(R.bins[c].map((b, i) => ({b, v: s.vals[i] || 0}))).enter().append("rect")
        .attr("x", d => x(d.b + s.off * bw - bw / 2))
        .attr("width", d => x(d.b + s.off * bw + bw / 2) - x(d.b + s.off * bw - bw / 2))
        .attr("y", d => s.y(d.v))
        .attr("height", d => s.y(0) - s.y(d.v))
        .attr("fill", s.color);
    });
    const lineL = d3.line().x(d => x(d[0])).y(d => yL(d[1])).curve(d3.curveMonotoneX);
    const lineR = d3.line().x(d => x(d[0])).y(d => yR(d[1])).curve(d3.curveMonotoneX);
    plot.append("path").attr("d", lineL(R.cBlack[c])).attr("fill", "none").attr("stroke", "#111").attr("stroke-width", 1.4);
    plot.append("path").attr("d", lineR(R.cRed[c])).attr("fill", "none").attr("stroke", "#ff0000").attr("stroke-width", 1.4);
    plot.append("path").attr("d", lineL(R.cBlue[c])).attr("fill", "none").attr("stroke", "#0000ff").attr("stroke-width", 1.4);
    const bx = R.box[c];
    if (bx) {
      plot.append("rect").attr("x", x(bx[0])).attr("y", yL(bx[3]))
        .attr("width", x(bx[1]) - x(bx[0])).attr("height", yL(bx[2]) - yL(bx[3]))
        .attr("fill", "none").attr("stroke", (r === 0 && c === 3) ? "#9a9a9a" : "#4d4d4d")
        .attr("stroke-width", 1.5).attr("stroke-dasharray", "9,5");
    }
    // axes
    const axB = g.append("g").attr("transform", `translate(0,${T + H})`)
      .call(d3.axisBottom(x).tickValues(R.xTicks[c]).tickSize(-5).tickSizeOuter(0).tickPadding(12).tickFormat(fmt));
    axB.select(".domain").attr("stroke", AX_C).attr("stroke-width", 1.5);
    axB.selectAll(".tick line").attr("stroke", AX_C);
    styleText(axB.selectAll("text"), "#222", 15);
    const axT = g.append("g").attr("transform", `translate(0,${T})`)
      .call(d3.axisTop(x).tickValues(R.xTicks[c]).tickSize(-5).tickSizeOuter(0).tickFormat(""));
    axT.select(".domain").attr("stroke", "#666").attr("stroke-width", 1.6);
    axT.selectAll(".tick line").attr("stroke", "#555");
    const axL = g.append("g").attr("transform", `translate(${L},0)`)
      .call(d3.axisLeft(yL).tickValues(R.leftTicks[c]).tickSize(-5).tickSizeOuter(0).tickPadding(5).tickFormat(fmt));
    axL.select(".domain").attr("stroke", LEFT_C).attr("stroke-width", 1.1);
    axL.selectAll(".tick line").attr("stroke", LEFT_C);
    styleText(axL.selectAll("text"), LEFT_C, 15);
    const axR = g.append("g").attr("transform", `translate(${L + W},0)`)
      .call(d3.axisRight(yR).tickValues(R.rightTicks[c]).tickSize(-5).tickSizeOuter(0).tickPadding(5).tickFormat(fmt));
    axR.select(".domain").attr("stroke", RIGHT_C).attr("stroke-width", 1.1);
    axR.selectAll(".tick line").attr("stroke", RIGHT_C);
    styleText(axR.selectAll("text"), RIGHT_C, 15);

    const cx = L + W / 2, cy = T + H / 2;
    if (r === 0) {
      g.append("text").attr("transform", `translate(${cx},22) scale(${SX},1)`).attr("text-anchor", "middle")
        .attr("font-size", 16).attr("fill", "#111").text(m);
    }
    if (r === rows.length - 1) {
      g.append("text").attr("transform", `translate(${cx},1083) scale(${SX},1)`).attr("text-anchor", "middle")
        .attr("font-size", 16).attr("fill", "#222").text(xLabel);
    }
    if (c === 0) {
      [[leftLabel, 32], ["(" + durations[r] + ")", 55]].forEach(([s, bxp]) => {
        g.append("text").attr("transform", `translate(${bxp},${cy}) scale(${SX},1) rotate(-90)`)
          .attr("text-anchor", "middle").attr("font-size", 16).attr("letter-spacing", 1.2)
          .attr("fill", LEFT_C).text(s);
      });
    }
    if (c === 3) {
      [[rightLabel, 2011], ["(" + durations[r] + ")", 2033]].forEach(([s, bxp]) => {
        g.append("text").attr("transform", `translate(${bxp},${cy}) scale(${SX},1) rotate(-90)`)
          .attr("text-anchor", "middle").attr("font-size", 16).attr("letter-spacing", 1)
          .attr("fill", RIGHT_C).text(s);
      });
    }
  });
});
</script></body></html>
